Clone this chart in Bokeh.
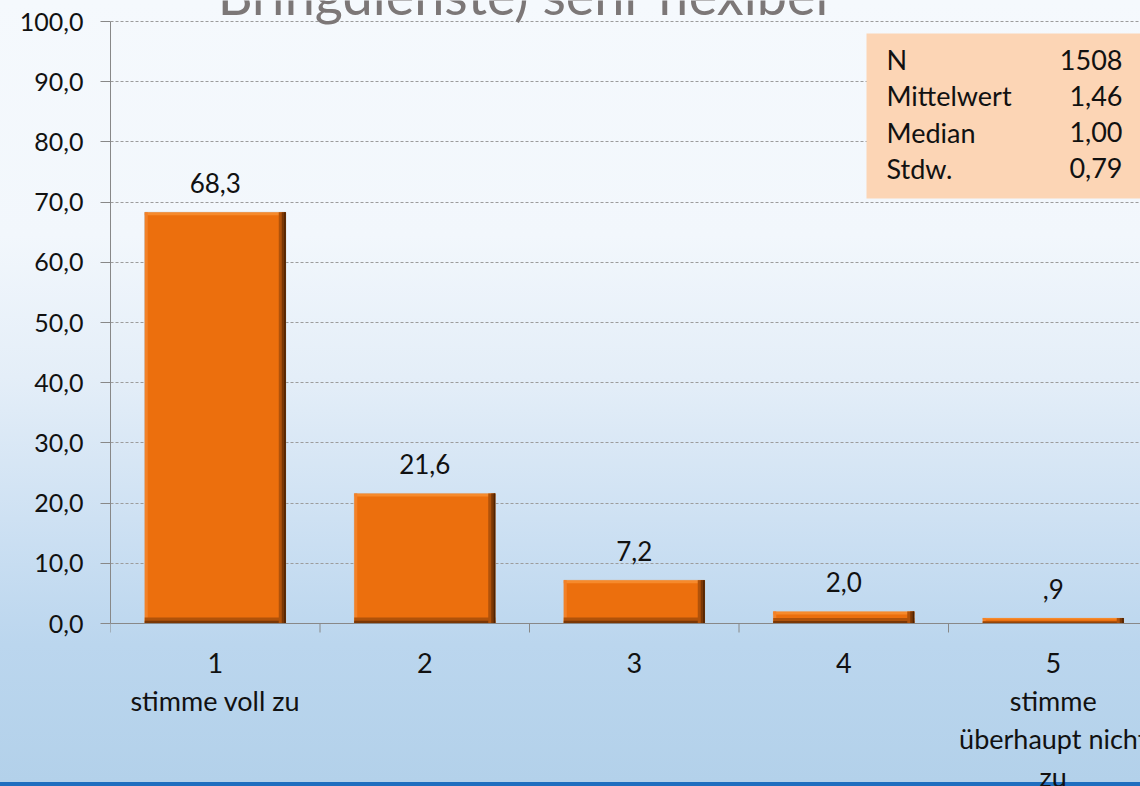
import numpy as np
from bokeh.plotting import figure
from bokeh.models import (ColumnDataSource, Range1d, FixedTicker, LinearAxis,
                          LabelSet, Label, BoxAnnotation, Grid, Span)
from bokeh.core.properties import value
from bokeh.embed import file_html
from bokeh.resources import INLINE

# ---------------- data ----------------
categories = [1, 2, 3, 4, 5]
category_labels = ["1\nstimme voll zu", "2", "3", "4",
                   "5\nstimme\nüberhaupt nicht\nzu"]
percent = [68.3, 21.6, 7.2, 2.0, 0.9]
percent_labels = ["68,3", "21,6", "7,2", "2,0", ",9"]
y_ticks = [0, 10, 20, 30, 40, 50, 60, 70, 80, 90, 100]
y_tick_labels = ["0,0", "10,0", "20,0", "30,0", "40,0", "50,0",
                 "60,0", "70,0", "80,0", "90,0", "100,0"]
stat_names = ["N", "Mittelwert", "Median", "Stdw."]
stat_values = ["1508", "1,46", "1,00", "0,79"]
title_text = "Bringdienste) sehr flexibel"

FONT = "Lato"
ORANGE = "#EC6F0D"
TXT = "#111111"
AX_COLOR = "#888888"

# ---------------- geometry ----------------
W, H = 1140, 786
frame_left = 110
y100_px, y0_px = 21, 623          # page rows of the values 100 and 0
band_px = 209.5
x_end = 0.5 + (W - frame_left) / band_px
px_x = 1.0 / band_px                      # data units per pixel horizontally
px_y = 100.0 / (y0_px - y100_px)          # data units per pixel vertically


def ydata(py):
    """page pixel row -> data y"""
    return (y0_px - py) * px_y


def xdata(px):
    """page pixel column -> data x"""
    return 0.5 + (px - frame_left) * px_x


# the frame covers the full height so that texts above/below the value area
# are not clipped; the y axis is bounded to 0..100
p = figure(width=W, height=H, output_backend="svg", toolbar_location=None,
           x_range=Range1d(0.5, x_end), y_range=Range1d(ydata(H), ydata(0)),
           x_axis_type=None, y_axis_type=None,
           min_border_left=frame_left, min_border_right=0,
           min_border_top=0, min_border_bottom=0)
p.background_fill_alpha = 0
p.border_fill_alpha = 0
p.outline_line_color = None
p.styles = {"background-image":
            "linear-gradient(to bottom, #F5F9FD 0%, #F2F7FC 30%, #E4EEF8 48%, "
            "#CEE1F3 66%, #BBD6EE 82%, #B3D1EA calc(100% - 4px), "
            "#1F6EBF calc(100% - 4px), #1F6EBF 100%)"}

# y axis
yaxis = LinearAxis(ticker=FixedTicker(ticks=y_ticks, minor_ticks=[]),
                   major_label_overrides={t: l for t, l in zip(y_ticks, y_tick_labels)},
                   bounds=(y_ticks[0], y_ticks[-1]))
yaxis.axis_line_color = AX_COLOR
yaxis.major_tick_line_color = AX_COLOR
yaxis.major_tick_out = 10
yaxis.major_tick_in = 0
yaxis.major_label_standoff = 17
yaxis.major_label_text_font = FONT
yaxis.major_label_text_font_size = "25px"
yaxis.major_label_text_color = TXT
p.add_layout(yaxis, "left")

# grid
ygrid = Grid(dimension=1, ticker=yaxis.ticker)
ygrid.grid_line_color = "#9C9C9C"
ygrid.grid_line_dash = "3 2"
ygrid.grid_line_width = 1
p.add_layout(ygrid)

# ---------------- bars with bevel ----------------
x = np.array(categories, dtype=float)
v = np.array(percent)
bw = 0.673
left = x - bw / 2
right = x + bw / 2

src = ColumnDataSource(dict(x=x, top=v, left=left, right=right))
p.vbar(x="x", top="top", width=bw, bottom=0, source=src,
       fill_color=ORANGE, line_color="#C9C9C9", line_width=1)

bev_b = np.minimum(6 * px_y, v * 0.45)
bev_t = np.minimum(3 * px_y, v * 0.25)
p.quad(left=left, right=right, bottom=v - bev_t, top=v,
       fill_color="#F68A2C", line_color=None)
p.quad(left=left, right=left + 3 * px_x, bottom=0, top=v,
       fill_color="#F28128", line_color=None)
p.quad(left=left, right=right, bottom=0, top=bev_b,
       fill_color="#B0520A", line_color=None)
p.quad(left=left, right=right, bottom=0, top=bev_b * 0.45,
       fill_color="#7A3705", line_color=None)
p.quad(left=right - 7 * px_x, right=right, bottom=0, top=v,
       fill_color="#B0520A", line_color=None)
p.quad(left=right - 4 * px_x, right=right, bottom=0, top=v,
       fill_color="#7A3705", line_color=None)
p.quad(left=right - 1.5 * px_x, right=right, bottom=0, top=v,
       fill_color="#4E2303", line_color=None)

# ---------------- x axis (line at 0 + boundary ticks) ----------------
boundaries = [c - 0.5 for c in categories] + [categories[-1] + 0.5]
p.segment(x0=boundaries, y0=[0] * len(boundaries), x1=boundaries,
          y1=[-9 * px_y] * len(boundaries), line_color=AX_COLOR, line_width=1)
p.add_layout(Span(location=0, dimension="width", line_color=AX_COLOR,
                  line_width=1))

# value labels
lab_src = ColumnDataSource(dict(x=x, y=v, t=percent_labels))
p.add_layout(LabelSet(x="x", y="y", text="t", source=lab_src, y_offset=19,
                      text_align="center", text_baseline="alphabetic",
                      text_font=value(FONT), text_font_size="26px",
                      text_color=TXT))

# category labels (below axis), one Label per line
first_line_center, line_step = 662, 38
for xc, t in zip(categories, category_labels):
    for j, line in enumerate(t.split("\n")):
        p.add_layout(Label(x=xc, y=ydata(first_line_center + j * line_step),
                           text=line, text_align="center", text_baseline="middle",
                           text_font=FONT, text_font_size="27px",
                           text_color=TXT))

# ---------------- stats box ----------------
p.add_layout(BoxAnnotation(left=xdata(866), right=x_end + 1, bottom=ydata(198),
                           top=ydata(33), fill_color="#FCD5B5",
                           fill_alpha=1, line_color=None, level="annotation"))
row_first, row_step = 59, 36.3
for i, (n, s) in enumerate(zip(stat_names, stat_values)):
    yy = ydata(row_first + i * row_step)
    p.add_layout(Label(x=xdata(886), y=yy, text=n,
                       text_font=FONT, text_font_size="27px",
                       text_baseline="middle", text_align="left",
                       text_color=TXT))
    p.add_layout(Label(x=xdata(1122), y=yy, text=s,
                       text_font=FONT, text_font_size="27px",
                       text_baseline="middle", text_align="right",
                       text_color=TXT))

# ---------------- cut-off title ----------------
p.add_layout(Label(x=xdata(523), y=ydata(-6), text=title_text,
                   text_font=FONT, text_font_size="54px",
                   text_align="center", text_baseline="middle",
                   text_color="#7C7777"))

open("out.html", "w").write(file_html(p, INLINE))
